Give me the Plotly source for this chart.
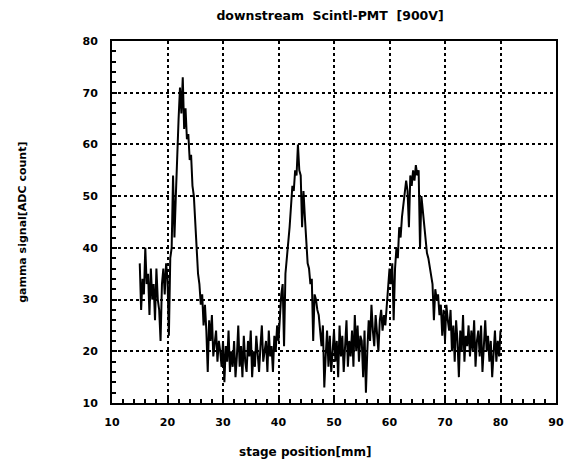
import plotly.graph_objects as go

# stage positions [mm], 0.25 mm steps from 15 to 80
x_start = 15.0
x_step = 0.25

signal_15_20 = [37, 28, 34, 31, 40, 33, 35, 27, 36, 30, 33, 26, 36, 30, 28, 22, 33, 36, 31, 37]
signal_20_25 = [34, 23, 38, 40, 54, 42, 50, 60, 65, 71, 66, 73, 63, 67, 61, 62, 57, 58, 52, 50]
signal_25_30 = [44, 39, 35, 33, 29, 31, 25, 29, 24, 16, 26, 22, 27, 19, 21, 24, 18, 22, 20, 17]
signal_30_35 = [22, 14, 21, 18, 24, 16, 20, 17, 22, 15, 19, 25, 17, 21, 15, 23, 18, 16, 22, 19]
signal_35_40 = [24, 15, 20, 17, 23, 19, 16, 21, 25, 18, 20, 22, 16, 24, 19, 21, 16, 23, 20, 25]
signal_40_45 = [22, 27, 31, 33, 21, 35, 38, 40, 44, 48, 52, 51, 55, 54, 60, 55, 54, 44, 51, 46]
signal_45_50 = [40, 37, 36, 33, 34, 22, 31, 30, 28, 27, 24, 21, 25, 13, 19, 24, 17, 23, 16, 21]
signal_50_55 = [24, 18, 22, 15, 25, 19, 23, 16, 21, 26, 17, 22, 19, 24, 17, 27, 20, 25, 18, 23]
signal_55_60 = [22, 15, 24, 12, 20, 26, 22, 29, 24, 21, 27, 23, 20, 26, 28, 24, 27, 25, 29, 31]
signal_60_65 = [36, 33, 37, 26, 36, 40, 38, 44, 42, 46, 48, 50, 53, 51, 44, 54, 52, 55, 53, 56]
signal_65_70 = [54, 55, 40, 50, 47, 44, 42, 39, 38, 36, 34, 33, 26, 32, 30, 31, 27, 29, 23, 28]
signal_70_75 = [22, 29, 26, 24, 28, 20, 25, 18, 26, 22, 15, 24, 20, 27, 18, 23, 21, 25, 19, 24]
signal_75_80 = [20, 26, 17, 22, 24, 19, 25, 16, 21, 26, 20, 23, 18, 22, 15, 21, 24, 18, 22, 19, 24]

signal = (signal_15_20 + signal_20_25 + signal_25_30 + signal_30_35 + signal_35_40
          + signal_40_45 + signal_45_50 + signal_50_55 + signal_55_60 + signal_60_65
          + signal_65_70 + signal_70_75 + signal_75_80)
position = [x_start + i * x_step for i in range(len(signal))]

x_ticks = [10, 20, 30, 40, 50, 60, 70, 80, 90]
y_ticks = [10, 20, 30, 40, 50, 60, 70, 80]

FONT = "DejaVu Sans"

fig = go.Figure()
fig.add_trace(go.Scatter(
    x=position, y=signal, mode="lines",
    line=dict(color="black", width=2),
    showlegend=False,
))

axis_common = dict(
    automargin=False,
    showline=True, mirror=True, linecolor="black", linewidth=2,
    showgrid=True, gridcolor="black", griddash="dot", gridwidth=1.5,
    ticks="inside", ticklen=5, tickwidth=1.5, tickcolor="black",
    minor=dict(ticks="inside", ticklen=4, tickwidth=1.5, tickcolor="black", dtick=2, showgrid=False),
    tickfont=dict(family=FONT, size=11, color="black", weight="bold"),
    zeroline=False,
)

fig.update_xaxes(range=[10, 90], tickvals=x_ticks, ticktext=[str(v) for v in x_ticks],
                 ticklabelstandoff=8, **axis_common)
fig.update_yaxes(range=[10, 80], tickvals=y_ticks, ticktext=[str(v) for v in y_ticks],
                 ticklabelstandoff=10, **axis_common)

fig.update_layout(
    width=570, height=456,
    margin=dict(l=104, r=22, t=33, b=61),
    paper_bgcolor="white", plot_bgcolor="white",
    title=dict(text="downstream  Scintl-PMT  [900V]", x=0.565, xanchor="center", y=0.9825, yanchor="middle",
               font=dict(family=FONT, size=12.5, color="black", weight="bold")),
    annotations=[
        dict(text="stage position[mm]", xref="paper", yref="paper", x=0.435, y=0, yshift=-49,
             xanchor="center", yanchor="middle", showarrow=False,
             font=dict(family=FONT, size=12, color="black", weight="bold")),
        dict(text="gamma signal[ADC count]", xref="paper", yref="paper", x=-0.203, y=0.5,
             xanchor="center", yanchor="middle", showarrow=False, textangle=-90,
             font=dict(family=FONT, size=11, color="black", weight="bold")),
    ],
)

fig.write_html("out.html")
